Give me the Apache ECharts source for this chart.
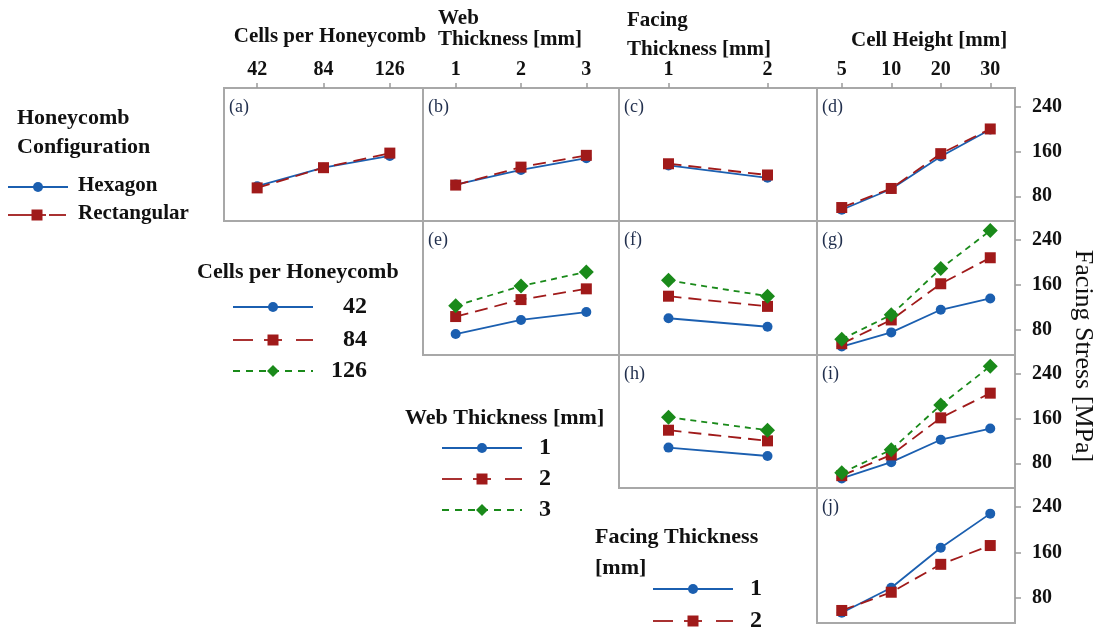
<!DOCTYPE html>
<html><head><meta charset="utf-8">
<script src="https://cdn.jsdelivr.net/npm/echarts@6/dist/echarts.min.js"></script>
<style>html,body{margin:0;padding:0;background:#fff}#c{width:1102px;height:630px}</style>
</head><body><div id="c"></div>
<script>
// ---- factor levels (tick labels) ----
const cellsLevels = ['42', '84', '126'];
const webLevels = ['1', '2', '3'];
const facingLevels = ['1', '2'];
const heightLevels = ['5', '10', '20', '30'];
const yTicks = [80, 160, 240];

// ---- Row 1: Honeycomb configuration (Hexagon / Rectangular) ----
const a_hex = [98, 131, 152];
const a_rect = [95, 131, 157];
const b_hex = [101, 127, 148];
const b_rect = [100, 132, 153];
const c_hex = [135, 113];
const c_rect = [138, 118];
const d_hex = [56, 93, 151, 199];
const d_rect = [60, 94, 156, 200];
// ---- Row 2: Cells per honeycomb (42 / 84 / 126) ----
const e_42 = [73, 98, 112];
const e_84 = [104, 134, 153];
const e_126 = [123, 158, 183];
const f_42 = [101, 86];
const f_84 = [140, 122];
const f_126 = [168, 140];
const g_42 = [51, 76, 116, 136];
const g_84 = [56, 98, 162, 208];
const g_126 = [64, 107, 189, 256];
// ---- Row 3: Web thickness (1 / 2 / 3) ----
const h_1 = [108, 93];
const h_2 = [139, 120];
const h_3 = [162, 139];
const i_1 = [53, 82, 122, 142];
const i_2 = [58, 95, 161, 205];
const i_3 = [63, 104, 184, 253];
// ---- Row 4: Facing thickness (1 / 2) ----
const j_1 = [54, 98, 168, 228];
const j_2 = [58, 90, 139, 172];

const BLUE = '#1b5fb0', RED = '#a01a1a', GREEN = '#1a8a1a';
const SERIF = '"Liberation Serif", "Times New Roman", serif';
const BORDER = '#a8a8a8';
const STY = [
  {color: BLUE, type: 'solid', symbol: 'circle', size: 10},
  {color: RED, type: [13, 7], symbol: 'rect', size: 11},
  {color: GREEN, type: [6, 5], symbol: 'diamond', size: 15}
];

const colLeft = [224, 423, 619, 817], colW = [199, 196, 198, 198];
const rowTop = [88, 221, 355, 488], rowH = [133, 134, 133, 135];

const panels = [
  {lab: '(a)', col: 0, row: 0, cats: cellsLevels, data: [a_hex, a_rect]},
  {lab: '(b)', col: 1, row: 0, cats: webLevels, data: [b_hex, b_rect]},
  {lab: '(c)', col: 2, row: 0, cats: facingLevels, data: [c_hex, c_rect]},
  {lab: '(d)', col: 3, row: 0, cats: heightLevels, data: [d_hex, d_rect]},
  {lab: '(e)', col: 1, row: 1, cats: webLevels, data: [e_42, e_84, e_126]},
  {lab: '(f)', col: 2, row: 1, cats: facingLevels, data: [f_42, f_84, f_126]},
  {lab: '(g)', col: 3, row: 1, cats: heightLevels, data: [g_42, g_84, g_126]},
  {lab: '(h)', col: 2, row: 2, cats: facingLevels, data: [h_1, h_2, h_3]},
  {lab: '(i)', col: 3, row: 2, cats: heightLevels, data: [i_1, i_2, i_3]},
  {lab: '(j)', col: 3, row: 3, cats: heightLevels, data: [j_1, j_2]}
];

const grid = [], xAxis = [], yAxis = [], series = [], graphic = [];
panels.forEach((p, k) => {
  grid.push({left: colLeft[p.col], top: rowTop[p.row], width: colW[p.col], height: rowH[p.row],
    show: true, borderColor: BORDER, borderWidth: 2, backgroundColor: 'transparent', containLabel: false});
  xAxis.push({gridIndex: k, type: 'category', data: p.cats, boundaryGap: true, position: 'top',
    show: p.row === 0,
    axisLine: {show: false},
    axisTick: {show: true, alignWithLabel: true, length: 5, lineStyle: {color: '#9a9a9a', width: 1.5}},
    axisLabel: {show: true, margin: 8, fontFamily: SERIF, fontWeight: 'bold', fontSize: 20, color: '#111'},
    splitLine: {show: false}});
  yAxis.push({gridIndex: k, type: 'value', min: 36, max: 273, position: 'right',
    show: p.col === 3,
    axisLine: {show: false},
    splitLine: {show: false},
    axisTick: {show: true, customValues: yTicks, length: 6, lineStyle: {color: '#9a9a9a', width: 1.5}},
    axisLabel: {show: true, customValues: yTicks, margin: 17, fontFamily: SERIF, fontWeight: 'bold', fontSize: 20, color: '#111'}});
  p.data.forEach((d, s) => {
    const st = STY[s];
    series.push({type: 'line', xAxisIndex: k, yAxisIndex: k, data: d,
      symbol: st.symbol, symbolSize: st.size, showSymbol: true,
      lineStyle: {color: st.color, width: 1.8, type: st.type},
      itemStyle: {color: st.color}, z: 2 + s, silent: true});
  });
  graphic.push({type: 'text', x: colLeft[p.col] + 5, y: rowTop[p.row] + 10,
    style: {text: p.lab, fontFamily: SERIF, fontSize: 18, fill: '#22304e', verticalAlign: 'top', align: 'left'}});
});

function txt(text, x, y, size, bold, align) {
  graphic.push({type: 'text', x: x, y: y, style: {text: text, fontFamily: SERIF, fontSize: size,
    fontWeight: bold ? 'bold' : 'normal', fill: '#111', align: align || 'left', verticalAlign: 'middle'}});
}
function legItem(x1, x2, y, s) {
  const st = STY[s], mx = (x1 + x2) / 2;
  if (s === 0) {
    graphic.push({type: 'line', shape: {x1: x1, y1: y, x2: x2, y2: y}, style: {stroke: st.color, lineWidth: 1.8}});
    graphic.push({type: 'circle', shape: {cx: mx, cy: y, r: 5}, style: {fill: st.color}});
  } else if (s === 1) {
    graphic.push({type: 'line', shape: {x1: x1, y1: y, x2: x1 + 20, y2: y}, style: {stroke: st.color, lineWidth: 1.8}});
    graphic.push({type: 'line', shape: {x1: x2 - 17, y1: y, x2: x2, y2: y}, style: {stroke: st.color, lineWidth: 1.8}});
    graphic.push({type: 'line', shape: {x1: mx - 9, y1: y, x2: mx + 9, y2: y}, style: {stroke: st.color, lineWidth: 1.8}});
    graphic.push({type: 'rect', shape: {x: mx - 5.5, y: y - 5.5, width: 11, height: 11}, style: {fill: st.color}});
  } else {
    graphic.push({type: 'line', shape: {x1: x1, y1: y, x2: x2, y2: y}, style: {stroke: st.color, lineWidth: 1.8, lineDash: [7, 6]}});
    graphic.push({type: 'polygon', shape: {points: [[mx, y - 6], [mx + 6, y], [mx, y + 6], [mx - 6, y]]}, style: {fill: st.color}});
  }
}

// top axis titles
txt('Cells per Honeycomb', 330, 37, 21, true, 'center');
txt('Web', 438, 19, 21, true);
txt('Thickness [mm]', 438, 40, 21, true);
txt('Facing', 627, 21, 21, true);
txt('Thickness [mm]', 627, 50, 21, true);
txt('Cell Height [mm]', 851, 41, 21, true);

// y axis title (rotated)
graphic.push({type: 'text', x: 1083, y: 356, rotation: -Math.PI / 2,
  style: {text: 'Facing Stress [MPa]', fontFamily: SERIF, fontSize: 26, fill: '#111', align: 'center', verticalAlign: 'middle'}});

// legend 1
txt('Honeycomb', 17, 118, 22, true);
txt('Configuration', 17, 147, 22, true);
legItem(8, 68, 187, 0); txt('Hexagon', 78, 186, 21, true);
legItem(8, 66, 215, 1); txt('Rectangular', 78, 214, 21, true);

// legend 2
txt('Cells per Honeycomb', 197, 272, 22, true);
legItem(233, 313, 307, 0); txt('42', 367, 307, 24, true, 'right');
legItem(233, 313, 340, 1); txt('84', 367, 340, 24, true, 'right');
legItem(233, 313, 371, 2); txt('126', 367, 371, 24, true, 'right');

// legend 3
txt('Web Thickness [mm]', 405, 418, 22, true);
legItem(442, 522, 448, 0); txt('1', 551, 448, 24, true, 'right');
legItem(442, 522, 479, 1); txt('2', 551, 479, 24, true, 'right');
legItem(442, 522, 510, 2); txt('3', 551, 510, 24, true, 'right');

// legend 4
txt('Facing Thickness', 595, 537, 22, true);
txt('[mm]', 595, 568, 22, true);
legItem(653, 733, 589, 0); txt('1', 762, 589, 24, true, 'right');
legItem(653, 733, 621, 1); txt('2', 762, 621, 24, true, 'right');

const chart = echarts.init(document.getElementById('c'), null, {renderer: 'canvas'});
chart.setOption({animation: false, backgroundColor: '#fff', grid, xAxis, yAxis, series, graphic});
</script>
</body></html>
